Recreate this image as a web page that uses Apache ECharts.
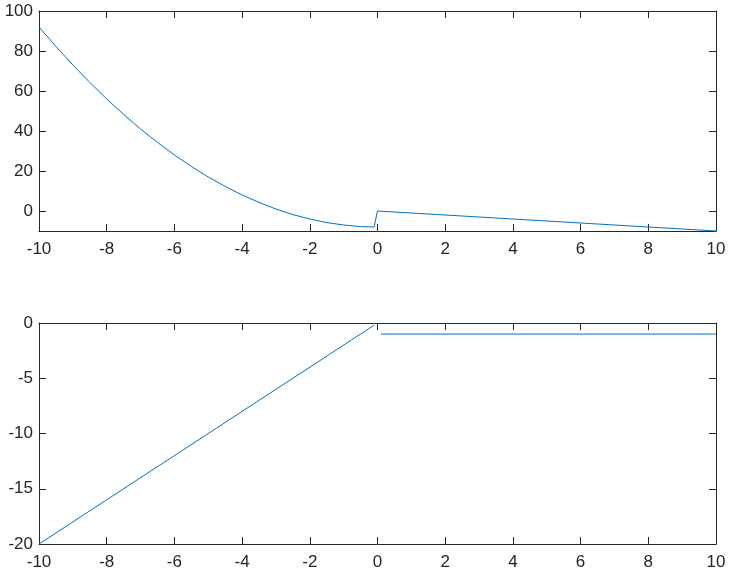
<!DOCTYPE html>
<html>
<head>
<meta charset="utf-8">
<script src="https://cdn.jsdelivr.net/npm/echarts@6/dist/echarts.min.js"></script>
<style>
  html, body { margin: 0; padding: 0; background: #fff; }
  #chart { width: 730px; height: 574px; }
</style>
</head>
<body>
<div id="chart"></div>
<script>
// top subplot: values
const topX = [-10, -9.5, -9, -8.5, -8, -7.5, -7, -6.5, -6, -5.5, -5, -4.5, -4, -3.5, -3,
  -2.5, -2, -1.5, -1, -0.5, -0.1, 0, 10];
const topY = [92, 82.3, 73, 64.3, 56, 48.3, 41, 34.3, 28, 22.3, 17, 12.3, 8, 4.3, 1,
  -1.8, -4, -5.8, -7, -7.8, -8, 0, -10];

// bottom subplot: rising piece, then flat piece after the gap
const botX = [-10, -0.1, 0, 0.1, 10];
const botY = [-20, -0.2, null, -1, -1];

const topYRange = [-10, 100];
const topYTicks = [0, 20, 40, 60, 80, 100];
const botYRange = [-20, 0];
const botYTicks = [-20, -15, -10, -5, 0];
const xRange = [-10, 10];
const xTicks = [-10, -8, -6, -4, -2, 0, 2, 4, 6, 8, 10];

const lineColor = "#0072bd";
const axisColor = "#262626";
const fontFamily = "Liberation Sans, Arial, sans-serif";

function pairs(xs, ys) {
  return xs.map((x, i) => [x, ys[i]]);
}

function makeX(grid, showLabels) {
  return {
    type: "value",
    gridIndex: grid,
    position: showLabels ? "bottom" : "top",
    min: xRange[0],
    max: xRange[1],
    axisLine: { show: true, onZero: false, lineStyle: { color: axisColor, width: 1 } },
    axisTick: {
      show: true, inside: true, length: 7, customValues: xTicks,
      lineStyle: { color: axisColor }
    },
    axisLabel: {
      show: showLabels,
      customValues: xTicks,
      color: axisColor,
      fontSize: 17,
      fontFamily: fontFamily,
      margin: 10
    },
    splitLine: { show: false }
  };
}

function makeY(grid, range, ticks, showLabels) {
  return {
    type: "value",
    gridIndex: grid,
    position: showLabels ? "left" : "right",
    min: range[0],
    max: range[1],
    axisLine: { show: true, onZero: false, lineStyle: { color: axisColor, width: 1 } },
    axisTick: {
      show: true, inside: true, length: 7, customValues: ticks,
      lineStyle: { color: axisColor }
    },
    axisLabel: {
      show: showLabels,
      customValues: ticks,
      color: axisColor,
      fontSize: 17,
      fontFamily: fontFamily,
      margin: 6
    },
    splitLine: { show: false }
  };
}

const myChart = echarts.init(document.getElementById("chart"), null, { renderer: "canvas" });

const option = {
  animation: false,
  backgroundColor: "#ffffff",
  grid: [
    { left: 39, right: 14, top: 11, height: 220 },
    { left: 39, right: 14, top: 323, height: 221 }
  ],
  xAxis: [makeX(0, true), makeX(0, false), makeX(1, true), makeX(1, false)],
  yAxis: [
    makeY(0, topYRange, topYTicks, true), makeY(0, topYRange, topYTicks, false),
    makeY(1, botYRange, botYTicks, true), makeY(1, botYRange, botYTicks, false)
  ],
  series: [
    {
      type: "line",
      xAxisIndex: 0,
      yAxisIndex: 0,
      data: pairs(topX, topY),
      showSymbol: false,
      lineStyle: { color: lineColor, width: 1 }
    },
    {
      type: "line",
      xAxisIndex: 2,
      yAxisIndex: 2,
      data: pairs(botX, botY),
      connectNulls: false,
      showSymbol: false,
      lineStyle: { color: lineColor, width: 1 }
    }
  ]
};

myChart.setOption(option);
</script>
</body>
</html>
